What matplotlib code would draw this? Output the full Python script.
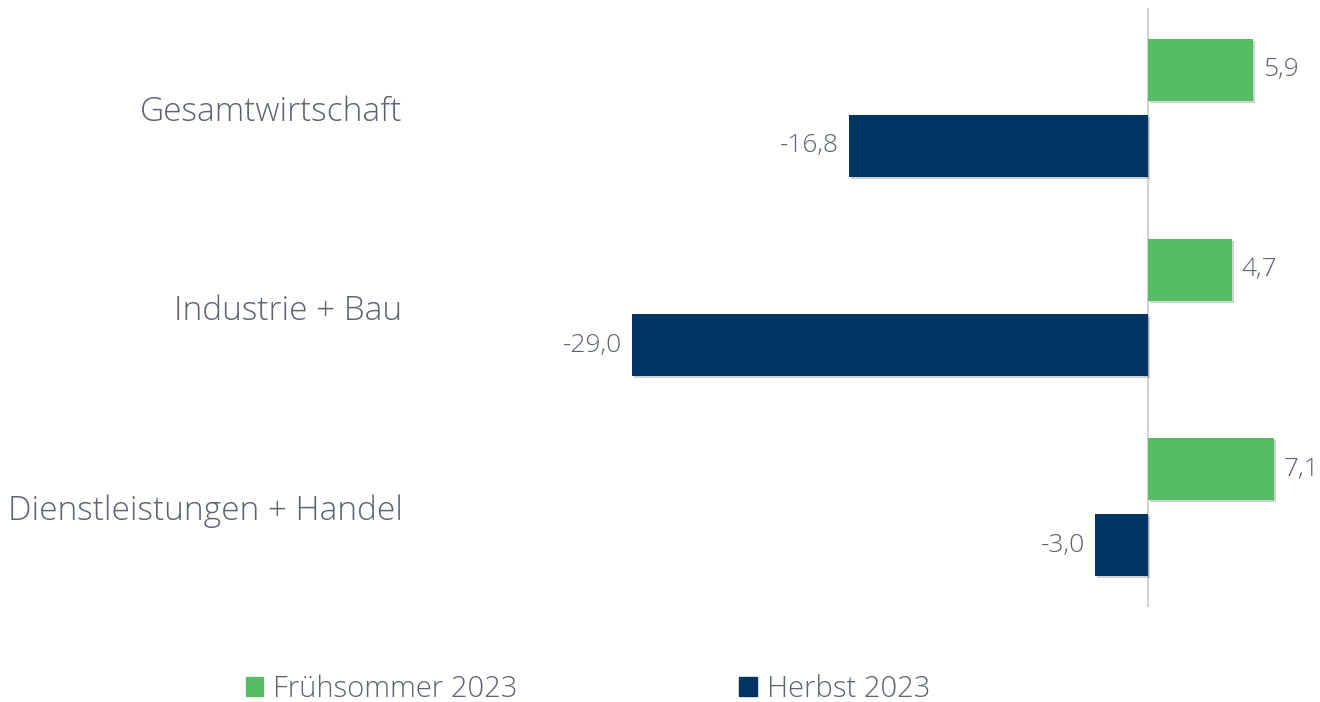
import numpy as np
import matplotlib.pyplot as plt
import matplotlib.patheffects as pe
from matplotlib.patches import Patch

categories = ['Gesamtwirtschaft', 'Industrie + Bau', 'Dienstleistungen + Handel']
fruehsommer = [5.9, 4.7, 7.1]
herbst = [-16.8, -29.0, -3.0]
series_names = ['Frühsommer 2023', 'Herbst 2023']

green = '#57bd65'
navy = '#003462'
grey = '#5b6470'

plt.rcParams['font.family'] = ['Open Sans', 'DejaVu Sans']
plt.rcParams['font.weight'] = 'light'

fig = plt.figure(figsize=(13.2, 7.02), dpi=100)
# axes spans x 422..1320 px, y 8..607 px
ax = fig.add_axes([422 / 1320, 1 - 607 / 702, 1 - 422 / 1320, 599 / 702])

y = np.arange(len(categories))
h = 0.31
off = 0.19
shadow = [pe.SimplePatchShadow(offset=(1.5, -1.5), shadow_rgbFace='#000000', alpha=0.18), pe.Normal()]

b1 = ax.barh(y - off, fruehsommer, h, color=green, path_effects=shadow)
b2 = ax.barh(y + off, herbst, h, color=navy, path_effects=shadow)

fmt = lambda v: f'{v:.1f}'.replace('.', ',')
ax.bar_label(b1, labels=[fmt(v) for v in fruehsommer], padding=7, fontsize=19, color=grey)
ax.bar_label(b2, labels=[fmt(v) for v in herbst], padding=7, fontsize=19, color=grey)

ax.axvline(0, color='#d4d4d4', lw=1.5, zorder=0)

px = 17.8  # pixels per unit
ax.set_xlim((422 - 1148) / px, (1320 - 1148) / px)
ax.set_ylim(2.5, -0.5)

ax.set_yticks(y, categories)
ax.tick_params(axis='y', length=0, pad=14, labelsize=24, labelcolor=grey)
ax.set_xticks([])
for s in ax.spines.values():
    s.set_visible(False)

handles = [Patch(color=green), Patch(color=navy)]
fig.legend(handles, series_names, loc='center', bbox_to_anchor=(588 / 1320, 1 - 689 / 702),
           ncol=2, frameon=False, fontsize=21, labelcolor=grey,
           handlelength=0.6, handleheight=0.6, handletextpad=0.35, columnspacing=7.6)

fig.savefig('out.png', dpi=100)
